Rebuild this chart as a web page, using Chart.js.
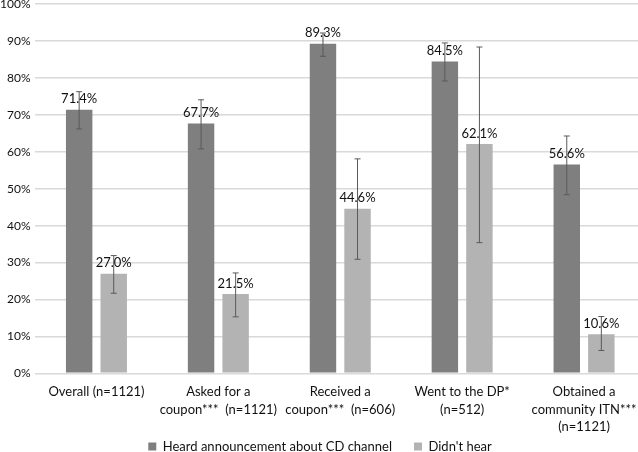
<!DOCTYPE html>
<html>
<head>
<meta charset="utf-8">
<script src="https://cdn.jsdelivr.net/npm/chart.js@4"></script>
<style>
  html, body { margin: 0; padding: 0; background: #fff; overflow: hidden; }
  #frame { position: relative; width: 638px; height: 452px; overflow: hidden; }
  #wrap { position: absolute; left: -5px; top: -8px; width: 650px; height: 460px; }
</style>
</head>
<body>
<div id="frame"><div id="wrap"><canvas id="barChart"></canvas></div></div>
<script>
const categories = [
    'Overall (n=1121)',
    ['Asked for a', 'coupon***  (n=1121)'],
    ['Received a', 'coupon***  (n=606)'],
    ['Went to the DP*', '(n=512)'],
    ['Obtained a', 'community ITN***', '(n=1121)']
]
const heard = [71.4, 67.7, 89.3, 84.5, 56.6]
const heardLow = [66.2, 60.8, 85.9, 79.2, 48.4]
const heardHigh = [76.3, 74.1, 92.2, 89.5, 64.3]
const notHeard = [27.0, 21.5, 44.6, 62.1, 10.6]
const notHeardLow = [21.7, 15.3, 30.9, 35.4, 6.2]
const notHeardHigh = [31.9, 27.2, 58.1, 88.4, 15.4]
const yTicks = [0, 10, 20, 30, 40, 50, 60, 70, 80, 90, 100]

const font = "Lato, 'Open Sans', sans-serif"

// error bars + value labels drawn after the bars
const extras = {
    id: 'extras',
    afterDatasetsDraw(chart) {
        const ctx = chart.ctx
        const y = chart.scales.y
        chart.data.datasets.forEach(function (ds, i) {
            const meta = chart.getDatasetMeta(i)
            meta.data.forEach(function (bar, j) {
                const top = y.getPixelForValue(ds.high[j])
                const bottom = y.getPixelForValue(ds.low[j])
                ctx.save()
                ctx.strokeStyle = '#5a5a5a'
                ctx.lineWidth = 1
                ctx.beginPath()
                ctx.moveTo(bar.x, top)
                ctx.lineTo(bar.x, bottom)
                ctx.moveTo(bar.x - 3, top)
                ctx.lineTo(bar.x + 3, top)
                ctx.moveTo(bar.x - 3, bottom)
                ctx.lineTo(bar.x + 3, bottom)
                ctx.stroke()
                ctx.fillStyle = '#111'
                ctx.font = '13px ' + font
                ctx.textAlign = 'center'
                ctx.textBaseline = 'bottom'
                ctx.fillText(ds.data[j].toFixed(1) + '%', bar.x, bar.y - 4)
                ctx.restore()
            })
        })
    }
}

new Chart(document.getElementById('barChart'), {
    type: 'bar',
    data: {
        labels: categories,
        datasets: [
            {
                label: 'Heard announcement about CD channel      ',
                backgroundColor: '#7f7f7f',
                data: heard,
                low: heardLow,
                high: heardHigh
            },
            {
                label: "Didn't hear",
                backgroundColor: '#b3b3b3',
                data: notHeard,
                low: notHeardLow,
                high: notHeardHigh
            }
        ]
    },
    options: {
        responsive: true,
        maintainAspectRatio: false,
        animation: false,
        layout: { padding: { top: 0, right: 0, left: 0, bottom: -11 } },
        datasets: { bar: { categoryPercentage: 0.567, barPercentage: 0.765 } },
        plugins: {
            tooltip: { enabled: false },
            legend: {
                position: 'bottom',
                labels: {
                    boxWidth: 8,
                    boxHeight: 8,
                    padding: 2,
                    color: '#111',
                    font: { family: font, size: 13 }
                }
            }
        },
        scales: {
            x: {
                grid: { display: false },
                border: { color: '#d9d9d9' },
                ticks: {
                    color: '#111',
                    maxRotation: 0,
                    autoSkip: false,
                    padding: 2,
                    font: { family: font, size: 13, lineHeight: 1.35 }
                }
            },
            y: {
                min: 0,
                max: 100,
                afterBuildTicks: function (axis) {
                    axis.ticks = yTicks.map(v => ({ value: v }))
                },
                grid: { color: '#d9d9d9', lineWidth: 1.5, drawTicks: false },
                border: { display: false },
                ticks: {
                    color: '#111',
                    padding: 5,
                    font: { family: font, size: 12 },
                    callback: v => v + '%'
                }
            }
        }
    },
    plugins: [extras]
})
</script>
</body>
</html>
